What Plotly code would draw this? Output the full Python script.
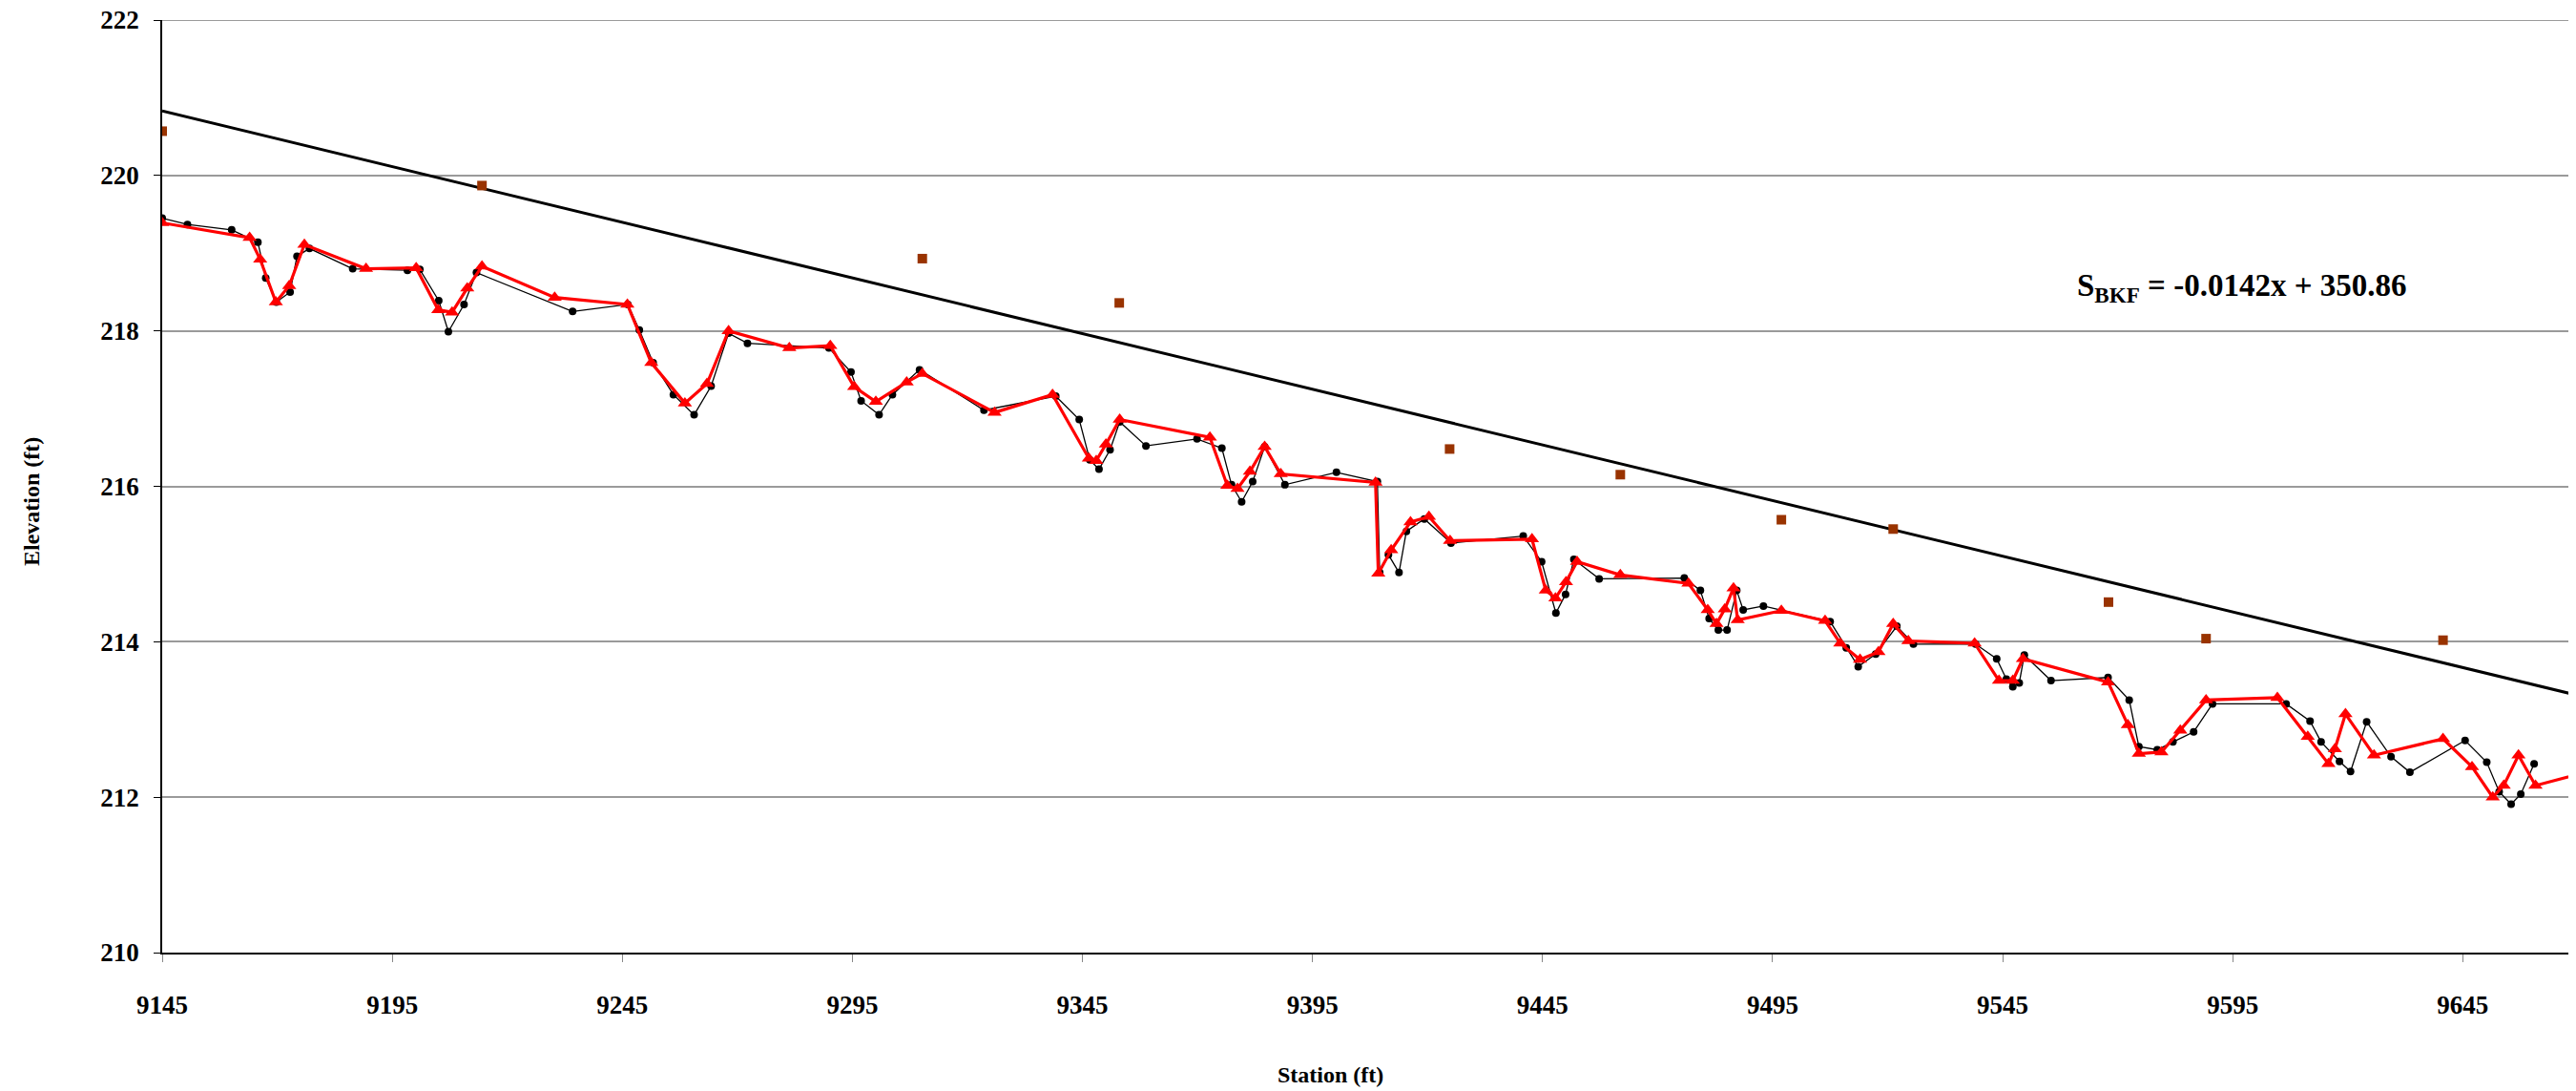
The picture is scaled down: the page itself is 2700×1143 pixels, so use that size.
import plotly.graph_objects as go

# surveyed profile (black circles)
sta_survey = [9145, 9150.5, 9160.1, 9165.8, 9167.5, 9169.8, 9172.8, 9174.3, 9177.0, 9186.4,
              9198.3, 9201.0, 9205.1, 9207.2, 9210.6, 9213.3, 9234.2, 9246.2, 9248.7, 9251.7,
              9256.1, 9260.6, 9264.3, 9268.1, 9272.2, 9289.9, 9294.7, 9296.9, 9300.8, 9303.7,
              9309.6, 9323.6, 9339.2, 9344.3, 9346.6, 9348.6, 9351.0, 9353.1, 9358.8, 9369.9,
              9375.3, 9377.4, 9379.6, 9382.0, 9384.6, 9389.0, 9400.2, 9409.1, 9409.6, 9411.5,
              9413.8, 9415.4, 9419.3, 9425.1, 9440.8, 9444.8, 9447.9, 9450.0, 9451.8, 9457.3,
              9475.8, 9479.3, 9481.2, 9483.2, 9485.1, 9487.2, 9488.6, 9493.0, 9507.5, 9511.0,
              9513.6, 9517.4, 9522.0, 9525.6, 9539.1, 9543.7, 9545.8, 9547.2, 9548.6, 9549.7,
              9555.5, 9567.9, 9572.5, 9574.6, 9578.6, 9582.0, 9586.5, 9590.6, 9606.6, 9611.8,
              9614.2, 9618.2, 9620.6, 9624.1, 9629.4, 9633.5, 9645.5, 9650.2, 9652.9, 9655.5,
              9657.6, 9660.5]
elev_survey = [219.45, 219.37, 219.30, 219.14, 218.68, 218.37, 218.50, 218.96, 219.06, 218.80,
               218.78, 218.79, 218.39, 217.99, 218.34, 218.75, 218.25, 218.34, 218.01, 217.59,
               217.18, 216.92, 217.29, 217.97, 217.84, 217.78, 217.47, 217.10, 216.92, 217.18,
               217.50, 216.98, 217.16, 216.86, 216.34, 216.22, 216.47, 216.83, 216.52, 216.61,
               216.49, 216.02, 215.80, 216.06, 216.51, 216.02, 216.18, 216.06, 214.89, 215.12,
               214.89, 215.42, 215.58, 215.27, 215.36, 215.03, 214.37, 214.61, 215.06, 214.81,
               214.82, 214.66, 214.30, 214.15, 214.15, 214.66, 214.41, 214.46, 214.26, 213.92,
               213.68, 213.84, 214.20, 213.97, 213.97, 213.78, 213.52, 213.42, 213.47, 213.83,
               213.50, 213.54, 213.25, 212.65, 212.61, 212.71, 212.84, 213.20, 213.20, 212.98,
               212.71, 212.46, 212.33, 212.97, 212.52, 212.32, 212.73, 212.45, 212.07, 211.91,
               212.04, 212.43]

# second profile (red triangles)
sta_red = [9145, 9164.0, 9166.3, 9169.7, 9172.6, 9175.9, 9189.3, 9200.2, 9205.0, 9208.0,
           9211.3, 9214.5, 9230.3, 9246.1, 9251.3, 9258.6, 9263.4, 9268.1, 9281.3, 9290.2,
           9295.4, 9300.1, 9306.8, 9310.2, 9325.9, 9338.5, 9346.4, 9348.0, 9350.1, 9353.1,
           9372.7, 9376.5, 9378.7, 9381.4, 9384.6, 9388.1, 9408.7, 9409.3, 9412.1, 9416.3,
           9420.3, 9424.9, 9442.7, 9445.7, 9447.8, 9450.1, 9452.5, 9461.9, 9476.7, 9480.9,
           9482.8, 9484.6, 9486.5, 9487.4, 9496.9, 9506.4, 9509.7, 9514.0, 9518.0, 9521.2,
           9524.5, 9538.9, 9544.2, 9547.2, 9549.4, 9567.9, 9572.2, 9574.6, 9579.5, 9583.6,
           9589.2, 9604.7, 9611.3, 9615.8, 9617.2, 9619.5, 9625.7, 9640.7, 9647.0, 9651.5,
           9653.9, 9657.1, 9660.8, 9680]
elev_red = [219.39, 219.20, 218.92, 218.37, 218.58, 219.11, 218.80, 218.81, 218.27, 218.24,
            218.55, 218.83, 218.43, 218.34, 217.59, 217.07, 217.32, 218.00, 217.78, 217.81,
            217.28, 217.09, 217.34, 217.45, 216.95, 217.18, 216.36, 216.33, 216.54, 216.86,
            216.63, 216.01, 215.97, 216.19, 216.51, 216.16, 216.05, 214.88, 215.18, 215.54,
            215.61, 215.30, 215.32, 214.66, 214.56, 214.77, 215.03, 214.86, 214.75, 214.41,
            214.23, 214.42, 214.69, 214.28, 214.40, 214.27, 213.98, 213.77, 213.87, 214.23,
            214.01, 213.98, 213.50, 213.50, 213.78, 213.48, 212.93, 212.56, 212.58, 212.86,
            213.25, 213.28, 212.78, 212.43, 212.62, 213.07, 212.54, 212.75, 212.39, 212.00,
            212.15, 212.54, 212.15, 212.45]

# bankfull points (brown squares)
sta_bkf = [9145, 9214.5, 9310.2, 9353.0, 9424.8, 9461.9, 9496.9, 9521.2, 9568.0, 9589.2, 9640.7]
elev_bkf = [220.57, 219.87, 218.93, 218.36, 216.48, 216.15, 215.57, 215.45, 214.51, 214.04, 214.02]

# bankfull trend line ends
sta_trend = [9145, 9670]
elev_trend = [220.83, 213.31]

y_min, y_max = 210, 222

serif = "Liberation Serif"
title_font = dict(family=serif, size=24, color="black", weight="bold")

fig = go.Figure()
fig.add_trace(go.Scatter(x=sta_trend, y=elev_trend, mode="lines",
                         line=dict(color="black", width=3), showlegend=False))
fig.add_trace(go.Scatter(x=sta_bkf, y=elev_bkf, mode="markers",
                         marker=dict(symbol="square", size=10, color="#993300"), showlegend=False))
fig.add_trace(go.Scatter(x=sta_survey, y=elev_survey, mode="lines+markers",
                         line=dict(color="black", width=1.3),
                         marker=dict(symbol="circle", size=8, color="black"), showlegend=False))
fig.add_trace(go.Scatter(x=sta_red, y=elev_red, mode="lines+markers",
                         line=dict(color="#ff0000", width=3.2),
                         marker=dict(symbol="triangle-up", size=13, color="#ff0000"), showlegend=False))

# top gridline sits on the plot edge, draw it explicitly
fig.add_shape(type="line", xref="paper", yref="y", x0=0, x1=1, y0=y_max, y1=y_max,
              line=dict(color="#9a9a9a", width=2), layer="below")

fig.add_annotation(x=9597, y=218.56, xref="x", yref="y", showarrow=False,
                   text="S<sub>BKF</sub> = -0.0142x + 350.86",
                   font=dict(family=serif, size=33, color="black", weight="bold"))
# axis titles placed in paper units (plot area spans x 170-2700, y 21-998)
fig.add_annotation(x=0.484, y=-0.131, xref="paper", yref="paper",
                   xanchor="center", yanchor="middle", showarrow=False,
                   text="Station (ft)", font=title_font)
fig.add_annotation(x=-0.0542, y=0.484, xref="paper", yref="paper",
                   xanchor="center", yanchor="middle", showarrow=False, textangle=-90,
                   text="Elevation (ft)", font=title_font)

fig.update_xaxes(range=[9145, 9669.6], tick0=9145, dtick=50, showgrid=False, automargin=False,
                 showline=True, linecolor="black", linewidth=2,
                 ticks="outside", ticklen=8, tickcolor="#888888",
                 tickfont=dict(family=serif, size=27, color="black", weight="bold"),
                 ticklabelstandoff=22, ticklabeloverflow="allow")
fig.update_yaxes(range=[y_min, y_max], dtick=2, showgrid=True, gridcolor="#9a9a9a", gridwidth=1.5,
                 showline=True, linecolor="black", linewidth=1.5, zeroline=False, automargin=False,
                 ticks="outside", ticklen=7, tickcolor="black",
                 tickfont=dict(family=serif, size=27, color="black", weight="bold"),
                 ticklabelstandoff=10, ticklabeloverflow="allow")

# page body adds an 8px offset, so margins are trimmed to keep the plot area in place
fig.update_layout(width=2700, height=1143, paper_bgcolor="white", plot_bgcolor="white",
                  margin=dict(l=162, r=8, t=13, b=153))

fig.write_html("out.html")
